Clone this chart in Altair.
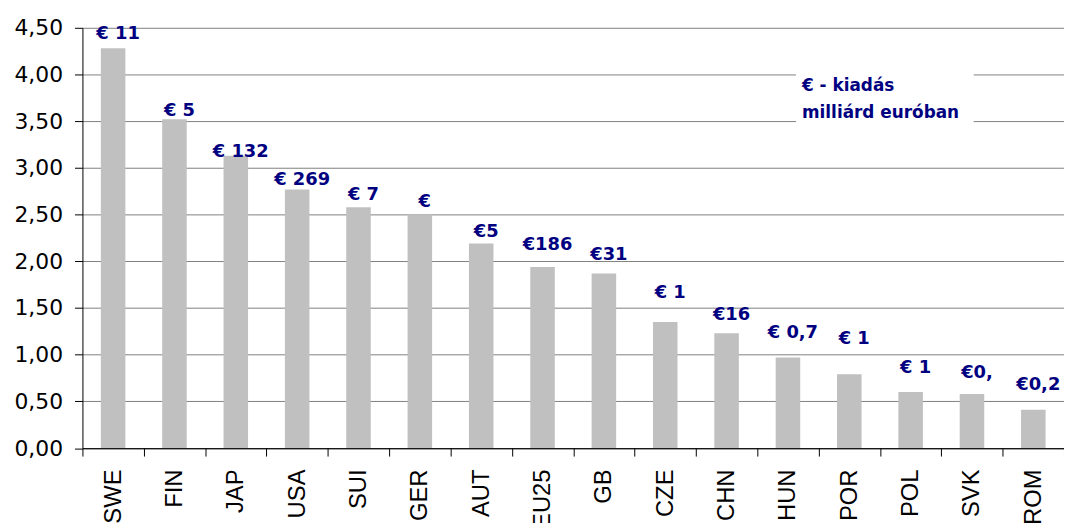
import altair as alt
import pandas as pd

countries = ["SWE", "FIN", "JAP", "USA", "SUI", "GER", "AUT", "EU25",
             "GB", "CZE", "CHN", "HUN", "POR", "POL", "SVK", "ROM"]
values = [4.28, 3.52, 3.13, 2.77, 2.58, 2.50, 2.19, 1.94,
          1.87, 1.35, 1.23, 0.97, 0.79, 0.60, 0.58, 0.41]
labels = ["€ 11", "€ 5", "€ 132", "€ 269", "€ 7", "€", "€5", "€186",
          "€31", "€ 1", "€16", "€ 0,7", "€ 1", "€ 1", "€0,", "€0,2"]
label_pos = [4.43, 3.61, 3.17, 2.87, 2.71, 2.63, 2.31, 2.17,
             2.07, 1.66, 1.43, 1.23, 1.17, 0.86, 0.80, 0.68]
y_ticks = [0, 0.5, 1.0, 1.5, 2.0, 2.5, 3.0, 3.5, 4.0, 4.5]
note_lines = ["€ - kiadás", "milliárd euróban"]

df = pd.DataFrame({"country": countries, "value": values,
                   "label": labels, "label_pos": label_pos})

W, H = 989, 423.5

x = alt.X("country:N", sort=countries, title=None,
          scale=alt.Scale(paddingInner=0, paddingOuter=0),
          axis=alt.Axis(labelAngle=270, labelFont="Liberation Sans",
                        labelFontSize=24, labelColor="black",
                        labelPadding=13, tickBand="extent", tickSize=8,
                        tickColor="black", domainColor="black",
                        labelLimit=200))
yscale = alt.Scale(domain=[0, 4.5], nice=False, zero=True)

bars = alt.Chart(df).mark_bar(color="#C0C0C0",
                              width=alt.RelativeBandSize(0.4)).encode(
    x=x,
    y=alt.Y("value:Q", scale=yscale, title=None,
            axis=alt.Axis(values=y_ticks, grid=True, gridColor="#808080",
                          gridWidth=1, tickSize=8, tickColor="black",
                          domainColor="black", labelFont="DejaVu Sans",
                          labelFontSize=22, labelColor="black",
                          labelPadding=12,
                          labelExpr="replace(format(datum.value, '.2f'), '.', ',')")),
)

texts = alt.Chart(df).mark_text(font="DejaVu Sans", fontWeight="bold",
                                fontSize=18, color="#000080",
                                align="center", baseline="middle", dx=5).encode(
    x=alt.X("country:N", sort=countries),
    y=alt.Y("label_pos:Q", scale=yscale),
    text="label:N",
)

box = alt.Chart(pd.DataFrame({"k": [0]})).mark_rect(color="white").encode(
    x=alt.value(719), x2=alt.value(898), y=alt.value(36), y2=alt.value(100))

note_df = pd.DataFrame({"line": note_lines, "i": [0, 1]})
note = alt.Chart(note_df).mark_text(font="DejaVu Sans", fontWeight="bold",
                                    fontSize=17, color="#000080",
                                    align="left", baseline="alphabetic").encode(
    x=alt.value(725),
    y=alt.Y("i:Q", scale=alt.Scale(domain=[0, 1], range=[63.5, 91],
                                   zero=False, nice=False), axis=None),
    text="line:N",
)

chart = alt.layer(bars, texts, box, note).resolve_scale(y="independent").properties(
    width=W, height=H,
    autosize=alt.AutoSizeParams(type="none"),
    padding={"left": 75, "top": 18, "right": 0, "bottom": 73},
).configure_view(strokeWidth=0)

chart.save("out.html", embed_options={"renderer": "svg", "actions": False})
